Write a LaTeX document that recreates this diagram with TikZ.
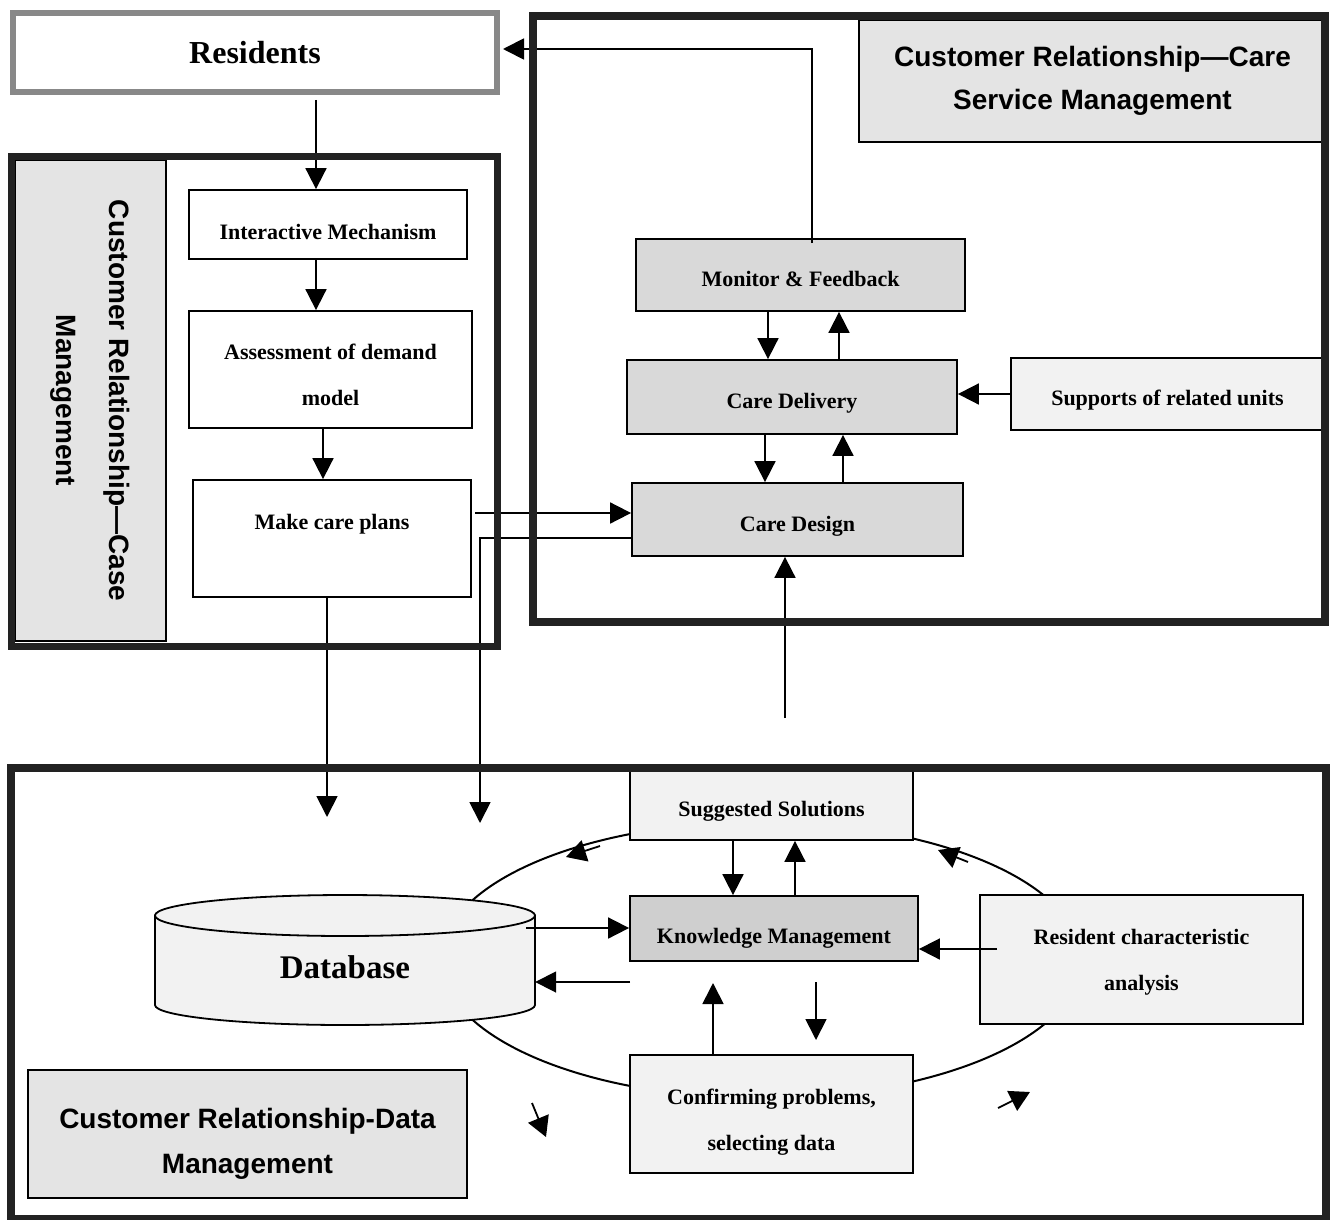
\documentclass[tikz,border=0pt]{standalone}
\usepackage{fontspec}
\setmainfont{Liberation Serif}
\newfontfamily\headfont{Liberation Sans}
\usetikzlibrary{calc,arrows.meta}
\definecolor{panelgray}{HTML}{E4E4E4}
\definecolor{stepgray}{HTML}{D9D9D9}
\definecolor{kmgray}{HTML}{CFCFCF}
\definecolor{palegray}{HTML}{F2F2F2}
\definecolor{resgray}{HTML}{888888}
\definecolor{framegray}{HTML}{222222}
\newcommand\dn[2][6pt]{\raisebox{-#1}[\height][\depth]{#2}}
\tikzset{
  procbox/.style={draw, line width=1.8pt, inner sep=0pt, align=center, font=\bfseries\fontsize{22}{46}\selectfont},
  hdbox/.style={draw, line width=1.5pt, fill=panelgray, inner sep=0pt, align=center, font=\headfont\bfseries\fontsize{28}{43}\selectfont},
  panelframe/.style={draw=framegray, line width=8pt},
  arr/.style={line width=1.8pt, -{Triangle[length=21pt,width=21pt]}},
  arrsmall/.style={line width=1.8pt, -{Triangle[length=20pt,width=22pt]}},
}

\begin{document}
\begin{tikzpicture}[x=1pt,y=-1pt]
	%%%%% START %%%%%
	\useasboundingbox (0,0) rectangle (1330,1220);
	\fill[white] (0,0) rectangle (1330,1220);
	
	\node[procbox, draw=resgray, line width=6pt, minimum width=484, minimum height=79, font=\bfseries\fontsize{32}{38}\selectfont] (res) at (255,52.5) {Residents};
	
	% case management
	\node[hdbox, line width=1.2pt, rotate=-90, minimum width=481, minimum height=151, font=\headfont\bfseries\fontsize{28}{53}\selectfont] (casehd) at (90.5,400.5) {Customer Relationship—Case\\Management};
	\node[procbox, minimum width=278, minimum height=69] (intm) at (328,224.5) {\dn[7pt]{Interactive Mechanism}};
	\node[procbox, minimum width=283, minimum height=117] (assm) at (330.5,369.5) {\dn[5pt]{Assessment of demand}\\\dn[5pt]{model}};
	\node[procbox, minimum width=278, minimum height=117] (plan) at (332,538.5) {Make care plans\\[-12pt]~};
	
	% care service management
	\node[hdbox, minimum width=467, minimum height=122] (carehd) at (1092.5,81) {Customer Relationship—Care\\Service Management};
	\node[procbox, fill=stepgray, minimum width=329, minimum height=72] (mon) at (800.5,275) {\dn[4pt]{Monitor \& Feedback}};
	\node[procbox, fill=stepgray, minimum width=330, minimum height=74] (deliv) at (792,397) {\dn{Care Delivery}};
	\node[procbox, fill=palegray, minimum width=313, minimum height=72] (supp) at (1167.5,394) {\dn{Supports of related units}};
	\node[procbox, fill=stepgray, minimum width=331, minimum height=73] (design) at (797.5,519.5) {\dn[7pt]{Care Design}};
	
	% data management
	\draw[line width=2pt] (761,960) ellipse (320 and 138);
	\draw[line width=1.8pt, fill=palegray] (155,915.5) -- (155,1005) arc (180:0:190 and 20) -- (535,915.5) -- cycle;
	\draw[line width=1.8pt, fill=palegray] (345,915.5) ellipse (190 and 20.5);
	\node[inner sep=0pt, minimum width=380, minimum height=90, font=\bfseries\fontsize{33}{40}\selectfont] (db) at (345,967) {Database};
	
	\node[procbox, fill=palegray, minimum width=283, minimum height=71] (sugg) at (771.5,804.5) {\dn[7pt]{Suggested Solutions}};
	\node[procbox, fill=kmgray, minimum width=288, minimum height=65] (know) at (774,928.5) {\dn[10pt]{Knowledge Management}};
	\node[procbox, fill=palegray, minimum width=323, minimum height=129] (resch) at (1141.5,959.5) {\dn[3pt]{Resident characteristic}\\\dn[3pt]{analysis}};
	\node[procbox, fill=palegray, minimum width=283, minimum height=118] (conf) at (771.5,1114) {\dn[8pt]{Confirming problems,}\\\dn[8pt]{selecting data}};
	\node[hdbox, minimum width=439, minimum height=128, font=\headfont\bfseries\fontsize{28}{45}\selectfont] (datahd) at (247.5,1134) {\dn[10pt]{Customer Relationship-Data}\\\dn[10pt]{Management}};
	
	\coordinate (planout) at (475,513);
	\coordinate (plandb) at (327,817);
	\coordinate (dsgdb) at (480,823);
	\coordinate (dsgin) at (785,718);
	\coordinate (dbout) at (526,928);
	\coordinate (rcout) at (997,949);
	\coordinate (kmout) at (630,982);
	\coordinate (cfin) at (713,983);
	\coordinate (kmdown) at (816,982);
	\coordinate (cfdown) at (816,1040);
	
	\draw[arr] ($(res.south -| intm.north)+(-12,5)$) -- ($(intm.north)+(-12,0)$);
	\draw[arr] ($(intm.south)+(-12,0)$) -- ($(assm.north)+(-14.5,0)$);
	\draw[arr] ($(assm.south)+(-7.5,0)$) -- ($(plan.north)+(-9,0)$);
	\draw[arr] (plan.south -| plandb) -- (plandb);
	\draw[arr] (planout) -- (planout -| design.west);
	\draw[arr] ($(design.west)+(0,18.5)$) -| (dsgdb);
	
	\draw[arr] ($(mon.north)+(11.5,5)$) |- ($(res.east)+(3,-3.5)$);
	\draw[arr] ($(mon.south)+(-32.5,0)$) -- ($(deliv.north)+(-24,0)$);
	\draw[arr] ($(deliv.north)+(47,0)$) -- ($(mon.south)+(38.5,0)$);
	\draw[arr] ($(deliv.south)+(-27,0)$) -- ($(design.north)+(-32.5,0)$);
	\draw[arr] ($(design.north)+(45.5,0)$) -- ($(deliv.south)+(51,0)$);
	\draw[arr] (supp.west) -- (supp.west -| deliv.east);
	\draw[arr] (dsgin) -- (dsgin |- design.south);
	
	\draw[arr] ($(sugg.south)+(-38.5,0)$) -- ($(know.north)+(-41,0)$);
	\draw[arr] ($(know.north)+(21,0)$) -- ($(sugg.south)+(23.5,0)$);
	\draw[arr] (dbout) -- (dbout -| know.west);
	\draw[arr] (kmout) -- (kmout -| db.east);
	\draw[arr] (rcout) -- (rcout -| know.east);
	\draw[arr] (cfin |- conf.north) -- (cfin);
	\draw[arr] (kmdown) -- (cfdown);
	
	\draw[arrsmall] (600,846) -- (566,857);
	\draw[arrsmall] (968,862) -- (938,850);
	\draw[arrsmall] (532,1103) -- (546,1137);
	\draw[arrsmall] (998,1108) -- (1030,1092);
	
	\draw[panelframe, line width=7pt] (11.5,156) rectangle (497.5,646);
	\draw[panelframe] (533,16) rectangle (1325,622);
	\draw[panelframe] (10.5,768) rectangle (1326,1219);
	%%%%% END %%%%%
\end{tikzpicture}
\end{document}
